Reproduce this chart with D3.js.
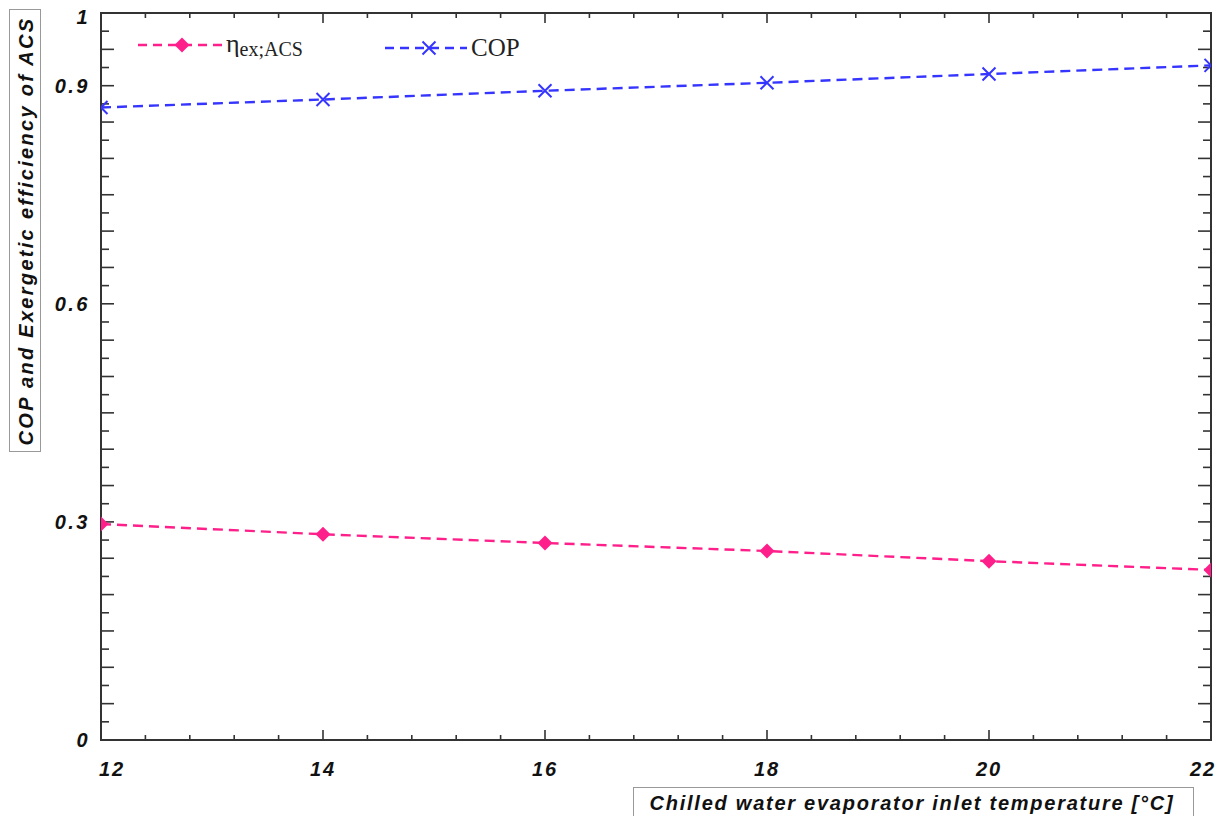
<!DOCTYPE html>
<html>
<head>
<meta charset="utf-8">
<script src="https://cdn.jsdelivr.net/npm/d3@7"></script>
<style>
  html, body { margin: 0; padding: 0; background: #fff; }
  svg { display: block; }
</style>
</head>
<body>
<svg id="chart" width="1220" height="816"></svg>
<script>
// ---- data ----
const temps = [12, 14, 16, 18, 20, 22];
const copValues = [0.870, 0.881, 0.893, 0.904, 0.916, 0.928];
const etaValues = [0.297, 0.283, 0.271, 0.260, 0.246, 0.234];
const yTickLabels = [0, 0.3, 0.6, 0.9, 1];
const xTickLabels = [12, 14, 16, 18, 20, 22];
const xTitle = "Chilled water evaporator inlet temperature [°C]";
const yTitle = "COP and Exergetic efficiency of ACS";

const pink = "#ff1f8a";
const blue = "#3535ff";
const axisColor = "#333";

const svg = d3.select("#chart");
const L = 101, R = 1211, T = 13, B = 740;
const x = d3.scaleLinear().domain([12, 22]).range([L, R]);
const y = d3.scaleLinear().domain([0, 1]).range([B, T]);

// clip
svg.append("defs").append("clipPath").attr("id", "clip")
  .append("rect").attr("x", L).attr("y", T).attr("width", R - L).attr("height", B - T);

// ---- ticks ----
const minorX = d3.range(12, 22.0001, 0.4);
const minorY = d3.range(0, 1.0001, 0.025);
const isMajorX = v => Math.abs(v / 2 - Math.round(v / 2)) < 1e-6;
const isLongY = v => Math.abs(v / 0.05 - Math.round(v / 0.05)) < 1e-6;

const g = svg.append("g");
minorX.forEach(v => {
  const len = isMajorX(v) ? 10 : 5;
  g.append("line").attr("x1", x(v)).attr("x2", x(v)).attr("y1", B).attr("y2", B - len)
    .attr("stroke", axisColor).attr("stroke-width", 1.6);
  g.append("line").attr("x1", x(v)).attr("x2", x(v)).attr("y1", T).attr("y2", T + len)
    .attr("stroke", axisColor).attr("stroke-width", 1.6);
});
minorY.forEach(v => {
  const len = isLongY(v) ? 13 : 8;
  g.append("line").attr("x1", L).attr("x2", L + len).attr("y1", y(v)).attr("y2", y(v))
    .attr("stroke", axisColor).attr("stroke-width", 1.6);
  g.append("line").attr("x1", R).attr("x2", R - len).attr("y1", y(v)).attr("y2", y(v))
    .attr("stroke", axisColor).attr("stroke-width", 1.6);
});
g.append("rect").attr("x", L).attr("y", T).attr("width", R - L).attr("height", B - T)
  .attr("fill", "none").attr("stroke", axisColor).attr("stroke-width", 2);

// tick labels
const tickFont = "'Liberation Sans', Arial, sans-serif";
svg.append("g").selectAll("text").data(xTickLabels).join("text")
  .attr("x", d => Math.min(Math.max(x(d), L + 11), R - 8))
  .attr("y", 776)
  .attr("text-anchor", "middle")
  .attr("font-family", tickFont).attr("font-weight", "bold").attr("font-style", "italic")
  .attr("font-size", 20).attr("letter-spacing", 2).attr("fill", "#111")
  .text(d => d);

svg.append("g").selectAll("text").data(yTickLabels).join("text")
  .attr("x", 90)
  .attr("y", d => Math.max(y(d), T + 4) + 7)
  .attr("text-anchor", "end")
  .attr("font-family", tickFont).attr("font-weight", "bold").attr("font-style", "italic")
  .attr("font-size", 20).attr("letter-spacing", 2.5).attr("fill", "#111")
  .text(d => d);

// ---- axis titles in boxes ----
svg.append("rect").attr("x", 633.5).attr("y", 787.5).attr("width", 560).attr("height", 32)
  .attr("fill", "#fff").attr("stroke", "#999").attr("stroke-width", 1);
svg.append("text").attr("x", 912).attr("y", 810)
  .attr("text-anchor", "middle")
  .attr("font-family", tickFont).attr("font-weight", "bold").attr("font-style", "italic")
  .attr("font-size", 20).attr("letter-spacing", 1.75).attr("fill", "#111")
  .text(xTitle);

svg.append("rect").attr("x", 9.5).attr("y", 9.5).attr("width", 31).attr("height", 442)
  .attr("fill", "#fff").attr("stroke", "#999").attr("stroke-width", 1);
svg.append("text").attr("transform", "translate(33,231) rotate(-90)")
  .attr("text-anchor", "middle")
  .attr("font-family", tickFont).attr("font-weight", "bold").attr("font-style", "italic")
  .attr("font-size", 20).attr("letter-spacing", 2.3).attr("fill", "#111")
  .text(yTitle);

// ---- series ----
const copData = temps.map((t, i) => ({ t, v: copValues[i] }));
const etaData = temps.map((t, i) => ({ t, v: etaValues[i] }));
const line = d3.line().x(d => x(d.t)).y(d => y(d.v));

const plot = svg.append("g").attr("clip-path", "url(#clip)");
plot.append("path").datum(copData).attr("d", line)
  .attr("fill", "none").attr("stroke", blue).attr("stroke-width", 2.4).attr("stroke-dasharray", "10,6");
plot.append("path").datum(etaData).attr("d", line)
  .attr("fill", "none").attr("stroke", pink).attr("stroke-width", 2.4).attr("stroke-dasharray", "10,6");

function crossMarker(sel, cx, cy, color) {
  const s = 6.5;
  sel.append("path")
    .attr("d", `M${cx - s},${cy - s}L${cx + s},${cy + s}M${cx - s},${cy + s}L${cx + s},${cy - s}`)
    .attr("stroke", color).attr("stroke-width", 2).attr("fill", "none");
}
function diamondMarker(sel, cx, cy, color) {
  const s = 7.5;
  sel.append("path")
    .attr("d", `M${cx},${cy - s}L${cx + s},${cy}L${cx},${cy + s}L${cx - s},${cy}Z`)
    .attr("fill", color);
}
copData.forEach(d => crossMarker(plot, x(d.t), y(d.v), blue));
etaData.forEach(d => diamondMarker(plot, x(d.t), y(d.v), pink));

// ---- legend ----
const lg = svg.append("g");
lg.append("line").attr("x1", 138).attr("x2", 222).attr("y1", 45).attr("y2", 45)
  .attr("stroke", pink).attr("stroke-width", 2.4).attr("stroke-dasharray", "9,6");
diamondMarker(lg, 182, 45, pink);
const t1 = lg.append("text").attr("x", 226).attr("y", 52)
  .attr("font-family", "'Liberation Serif', 'Times New Roman', serif").attr("fill", "#222");
t1.append("tspan").attr("font-size", 26).text("η");
t1.append("tspan").attr("font-size", 20).attr("dy", 4).text("ex;ACS");

lg.append("line").attr("x1", 385).attr("x2", 467).attr("y1", 48).attr("y2", 48)
  .attr("stroke", blue).attr("stroke-width", 2.4).attr("stroke-dasharray", "9,6");
crossMarker(lg, 429, 48, blue);
lg.append("text").attr("x", 471).attr("y", 56)
  .attr("font-family", "'Liberation Serif', 'Times New Roman', serif").attr("font-size", 25)
  .attr("fill", "#222").text("COP");
</script>
</body>
</html>
